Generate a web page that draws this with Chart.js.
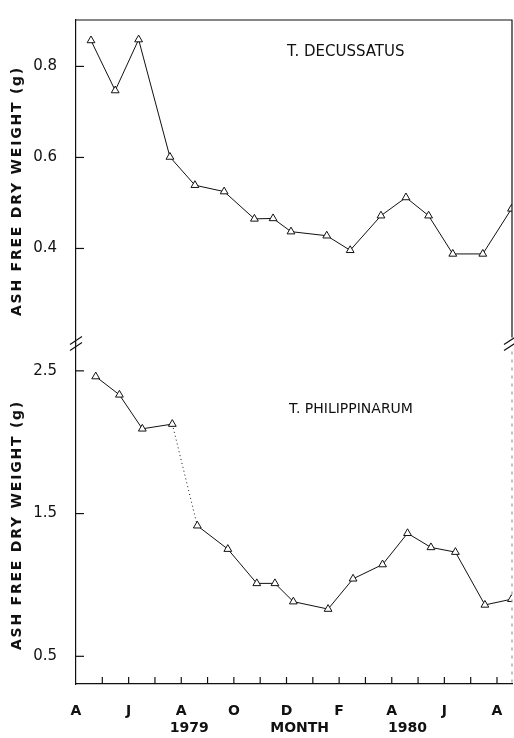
<!DOCTYPE html>
<html>
<head>
<meta charset="utf-8">
<script src="https://cdn.jsdelivr.net/npm/chart.js@4.4.1/dist/chart.umd.min.js"></script>
<style>
  html, body { margin: 0; padding: 0; background: #fff; }
  canvas { display: block; }
</style>
</head>
<body>
<canvas id="weightChart" width="514" height="738"></canvas>
<script>
// months counted from April 1979 (0) to August 1980 (16)
const decMonths = [0.57, 1.49, 2.38, 3.57, 4.52, 5.63, 6.78, 7.49, 8.17, 9.53, 10.42, 11.59, 12.54, 13.40, 14.32, 15.46, 16.55];
const decWeight = [0.857, 0.747, 0.859, 0.601, 0.539, 0.525, 0.465, 0.466, 0.437, 0.428, 0.396, 0.472, 0.512, 0.472, 0.388, 0.388, 0.487];

const phiMonths = [0.75, 1.65, 2.52, 3.66, 4.61, 5.77, 6.87, 7.56, 8.26, 9.58, 10.53, 11.65, 12.60, 13.49, 14.42, 15.54, 16.55];
const phiWeight = [2.46, 2.332, 2.094, 2.127, 1.415, 1.251, 1.011, 1.011, 0.883, 0.831, 1.043, 1.143, 1.362, 1.263, 1.230, 0.860, 0.900];

const monthLetters = ['A', '', 'J', '', 'A', '', 'O', '', 'D', '', 'F', '', 'A', '', 'J', '', 'A'];
const decTicks = [0.4, 0.6, 0.8];
const phiTicks = [0.5, 1.5, 2.5];

const toPoints = (xs, ys) => xs.map((x, i) => ({ x: x, y: ys[i] }));

const ink = '#111';
const numFont = { family: '"DejaVu Sans"', size: 15 };

// frame, inward ticks, axis breaks and labels
const decorations = {
    id: 'decorations',
    afterDraw(chart) {
        const ctx = chart.ctx;
        const area = chart.chartArea;
        const xs = chart.scales.x;
        const yUp = chart.scales.yUp;
        const yLow = chart.scales.yLow;
        const breakY = yUp.bottom;

        ctx.save();
        ctx.strokeStyle = ink;
        ctx.lineWidth = 1.2;

        // top and right border
        ctx.beginPath();
        ctx.moveTo(area.left, area.top);
        ctx.lineTo(area.right, area.top);
        ctx.lineTo(area.right, breakY - 6);
        ctx.stroke();
        ctx.save();
        ctx.strokeStyle = '#999';
        ctx.setLineDash([3, 5]);
        ctx.beginPath();
        ctx.moveTo(area.right, breakY + 8);
        ctx.lineTo(area.right, area.bottom);
        ctx.stroke();
        ctx.restore();

        // inward y ticks
        [[yUp, decTicks], [yLow, phiTicks]].forEach(([sc, vals]) => {
            vals.forEach(v => {
                const py = sc.getPixelForValue(v);
                ctx.beginPath();
                ctx.moveTo(area.left, py);
                ctx.lineTo(area.left + 8, py);
                ctx.stroke();
            });
        });

        // inward x ticks
        monthLetters.forEach((m, i) => {
            if (i === 0) return;
            const px = xs.getPixelForValue(i);
            ctx.beginPath();
            ctx.moveTo(px, area.bottom);
            ctx.lineTo(px, area.bottom - 7);
            ctx.stroke();
        });

        // axis break marks
        [area.left, area.right - 2].forEach(bx => {
            [-3, 3].forEach(dy => {
                ctx.beginPath();
                ctx.moveTo(bx - 6, breakY + dy + 4);
                ctx.lineTo(bx + 6, breakY + dy - 4);
                ctx.stroke();
            });
        });

        ctx.fillStyle = ink;

        // y axis titles
        const title = 'ASH FREE DRY WEIGHT (g)';
        ctx.font = 'bold 14px "DejaVu Sans"';
        const w0 = ctx.measureText(title).width;
        ctx.letterSpacing = ((250 - w0) / title.length).toFixed(2) + 'px';
        ctx.textAlign = 'center';
        ctx.textBaseline = 'middle';
        [191, 525].forEach(cy => {
            ctx.save();
            ctx.translate(17, cy);
            ctx.rotate(-Math.PI / 2);
            ctx.fillText(title, 0, 0);
            ctx.restore();
        });
        ctx.letterSpacing = '0px';

        // species names
        ctx.font = '15px "DejaVu Sans"';
        ctx.textAlign = 'left';
        ctx.fillText('T. DECUSSATUS', 287, 52);
        ctx.font = '14px "DejaVu Sans"';
        ctx.fillText('T. PHILIPPINARUM', 289, 409);

        // bottom labels
        ctx.font = 'bold 14px "DejaVu Sans"';
        ctx.textAlign = 'center';
        ctx.fillText('1979', xs.getPixelForValue(4.3), 728);
        ctx.fillText('MONTH', xs.getPixelForValue(8.5), 728);
        ctx.fillText('1980', xs.getPixelForValue(12.6), 728);
        ctx.restore();
    }
};

const ctx = document.getElementById('weightChart').getContext('2d');

const weightChart = new Chart(ctx, {
    type: 'line',
    data: {
        datasets: [
            {
                label: 'T. decussatus',
                data: toPoints(decMonths, decWeight),
                yAxisID: 'yUp',
                borderColor: ink,
                borderWidth: 1,
                pointStyle: 'triangle',
                pointRadius: 4.5,
                pointBorderWidth: 1,
                pointBackgroundColor: '#fff',
                pointBorderColor: ink
            },
            {
                label: 'T. philippinarum',
                data: toPoints(phiMonths, phiWeight),
                yAxisID: 'yLow',
                borderColor: ink,
                borderWidth: 1,
                pointStyle: 'triangle',
                pointRadius: 4.5,
                pointBorderWidth: 1,
                pointBackgroundColor: '#fff',
                pointBorderColor: ink,
                segment: {
                    borderDash: c => c.p0DataIndex === 3 ? [1, 3] : undefined
                }
            }
        ]
    },
    options: {
        responsive: false,
        animation: false,
        layout: { autoPadding: false, padding: { top: 13, right: 2, left: 0, bottom: 0 } },
        scales: {
            x: {
                type: 'linear',
                min: 0,
                max: 16.57,
                grid: { display: false },
                border: { display: true, color: ink, width: 1.2 },
                afterBuildTicks: sc => { sc.ticks = monthLetters.map((m, i) => ({ value: i })); },
                afterFit: sc => {
                    sc.height = 54;
                    sc.paddingLeft = 0;
                    sc.paddingRight = 0;
                },
                ticks: {
                    autoSkip: false,
                    maxRotation: 0,
                    padding: 11,
                    color: ink,
                    font: { family: '"DejaVu Sans"', size: 14, weight: 'bold' },
                    callback: v => monthLetters[v]
                }
            },
            yLow: {
                type: 'linear',
                position: 'left',
                stack: 'weight',
                stackWeight: 344,
                min: 0.306,
                max: 2.691,
                grid: { display: false },
                border: { display: true, color: ink, width: 1.2 },
                afterBuildTicks: sc => { sc.ticks = phiTicks.map(v => ({ value: v })); },
                afterFit: sc => { sc.width = 76; },
                ticks: { padding: 11, color: ink, font: numFont, callback: v => v.toFixed(1) }
            },
            yUp: {
                type: 'linear',
                position: 'left',
                stack: 'weight',
                stackWeight: 327,
                min: 0.191,
                max: 0.902,
                grid: { display: false },
                border: { display: true, color: ink, width: 1.2 },
                afterBuildTicks: sc => { sc.ticks = decTicks.map(v => ({ value: v })); },
                afterFit: sc => { sc.width = 76; },
                ticks: { padding: 11, color: ink, font: numFont, callback: v => v.toFixed(1) }
            }
        },
        plugins: {
            legend: { display: false },
            tooltip: { enabled: false }
        }
    },
    plugins: [decorations]
});
</script>
</body>
</html>
